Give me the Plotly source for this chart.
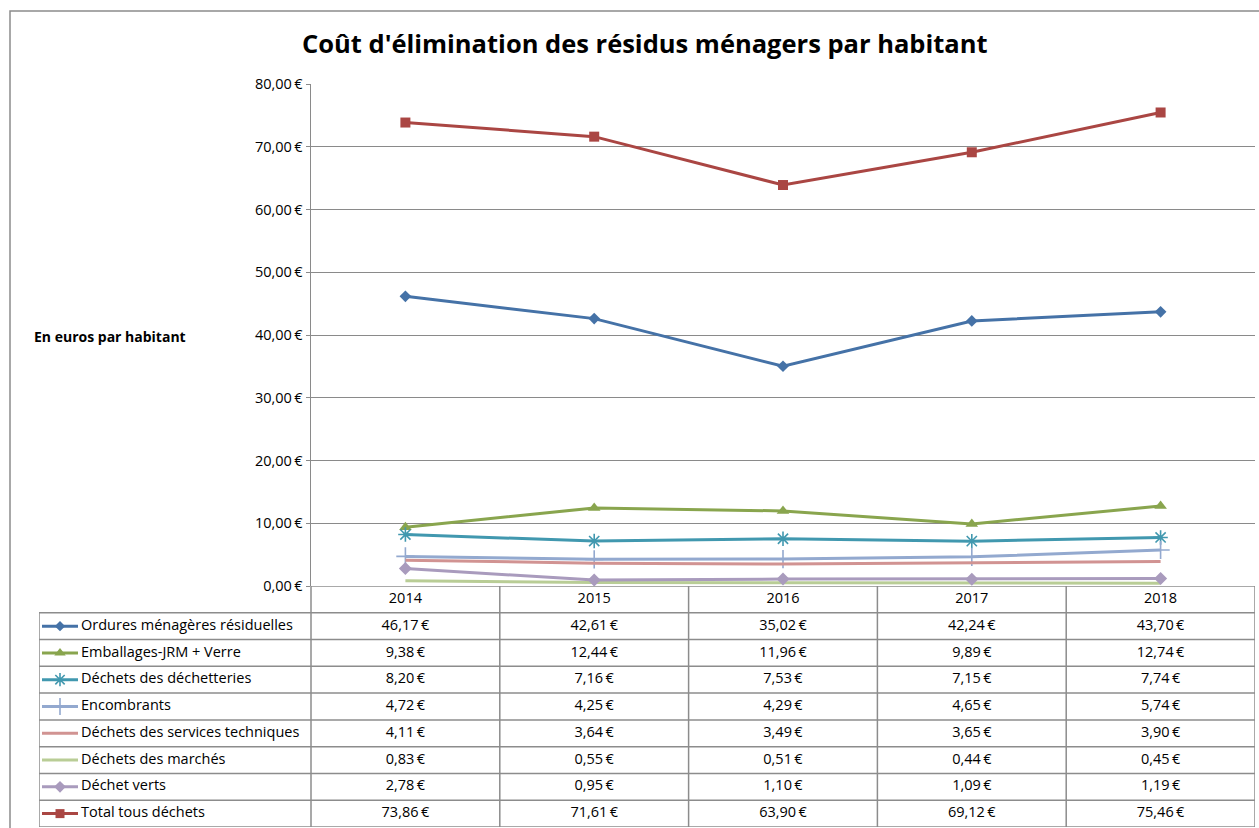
import plotly.graph_objects as go

# ---------------- data ----------------
years = ["2014", "2015", "2016", "2017", "2018"]
series_names = [
    "Ordures ménagères résiduelles",
    "Emballages-JRM + Verre",
    "Déchets des déchetteries",
    "Encombrants",
    "Déchets des services techniques",
    "Déchets des marchés",
    "Déchet verts",
    "Total tous déchets",
]
ordures = [46.17, 42.61, 35.02, 42.24, 43.70]
emballages = [9.38, 12.44, 11.96, 9.89, 12.74]
decheteries = [8.20, 7.16, 7.53, 7.15, 7.74]
encombrants = [4.72, 4.25, 4.29, 4.65, 5.74]
services_tech = [4.11, 3.64, 3.49, 3.65, 3.90]
marches = [0.83, 0.55, 0.51, 0.44, 0.45]
verts = [2.78, 0.95, 1.10, 1.09, 1.19]
total = [73.86, 71.61, 63.90, 69.12, 75.46]
y_ticks = [0, 10, 20, 30, 40, 50, 60, 70, 80]

values = [ordures, emballages, decheteries, encombrants, services_tech, marches, verts, total]

# ---------------- styles ----------------
colors = ["#4572A7", "#89A54E", "#4198AF", "#93A9CF", "#D19392", "#B9CD96", "#A99BBD", "#AA4643"]
symbols = ["diamond", "triangle-up", "asterisk-open", "cross-thin-open", None, None, "diamond", "square"]
msizes = [9, 11, 12, 13, 0, 0, 10, 10]

OFF = 0                      # page body margin removed by post_script
W, H = 1259, 828
FONT = "Open Sans"
TS = 14.5


def eur(v):
    return f"{v:,.2f}".replace(",", " ").replace(".", ",") + "\u2009€"


def px_x(p):
    return min(1.0, max(0.0, (p - OFF) / W))


def px_y(p):
    return min(1.0, max(0.0, 1 - (p - OFF) / H))


# geometry (reference pixels)
PL, PR, PT, PB = 311, 1255, 84, 586
TL, TB = 39, 827
col_w = (PR - PL) / len(years)
leg_w = (PL - TL) / col_w  # legend column width in category units

fig = go.Figure()

xs = [i + 0.5 for i in range(len(years))]

# ---------------- chart lines ----------------
for name, vals, c, s, ms in zip(series_names, values, colors, symbols, msizes):
    mode = "lines+markers" if s else "lines"
    marker = dict(color=c, size=ms, symbol=s if s else "circle",
                  line=dict(color=c, width=1.6 if s in ("asterisk-open", "cross-thin-open") else 0))
    fig.add_trace(go.Scatter(x=xs, y=vals, mode=mode, name=name,
                             line=dict(color=c, width=3), marker=marker,
                             showlegend=False, hoverinfo="skip", xaxis="x", yaxis="y"))

# ---------------- data table ----------------
n_rows = len(series_names) + 1
fig.add_trace(go.Scatter(x=xs, y=[0.5] * len(years), text=years, mode="text",
                         textfont=dict(family=FONT, size=TS, color="#000"),
                         showlegend=False, hoverinfo="skip", xaxis="x2", yaxis="y2"))
key_x0 = -leg_w + 3 / col_w
key_x1 = -leg_w + 39 / col_w
key_xm = (key_x0 + key_x1) / 2
lab_x = -leg_w + 42 / col_w
for r, (name, vals, c, s, ms) in enumerate(zip(series_names, values, colors, symbols, msizes), start=1):
    yc = r + 0.5
    fig.add_trace(go.Scatter(x=xs, y=[yc] * len(vals), text=[eur(v) for v in vals], mode="text",
                             textfont=dict(family=FONT, size=TS, color="#000"),
                             showlegend=False, hoverinfo="skip", xaxis="x2", yaxis="y2"))
    fig.add_trace(go.Scatter(x=[lab_x], y=[yc], text=[name], mode="text", textposition="middle right",
                             textfont=dict(family=FONT, size=TS, color="#000"),
                             showlegend=False, hoverinfo="skip", xaxis="x2", yaxis="y2"))
    fig.add_trace(go.Scatter(x=[key_x0, key_x1], y=[yc, yc], mode="lines",
                             line=dict(color=c, width=3),
                             showlegend=False, hoverinfo="skip", xaxis="x2", yaxis="y2"))
    if s:
        fig.add_trace(go.Scatter(x=[key_xm], y=[yc], mode="markers",
                                 marker=dict(color=c, size=ms - 1, symbol=s,
                                             line=dict(color=c, width=1.6 if s in ("asterisk-open", "cross-thin-open") else 0)),
                                 showlegend=False, hoverinfo="skip", xaxis="x2", yaxis="y2"))

grid_c = "#8c8c8c"
shapes = []
shapes.append(dict(type="line", xref="x2", yref="y2", x0=0, x1=len(years), y0=0, y1=0,
                   line=dict(color=grid_c, width=1.5)))
for r in range(1, n_rows + 1):
    shapes.append(dict(type="line", xref="x2", yref="y2", x0=-leg_w, x1=len(years), y0=r, y1=r,
                       line=dict(color=grid_c, width=1.5)))
for i in range(len(years) + 1):
    shapes.append(dict(type="line", xref="x2", yref="y2", x0=i, x1=i, y0=0, y1=n_rows,
                       line=dict(color=grid_c, width=1.5)))
shapes.append(dict(type="line", xref="x2", yref="y2", x0=-leg_w, x1=-leg_w, y0=1, y1=n_rows,
                   line=dict(color=grid_c, width=1.5)))
# outer chart border
shapes.append(dict(type="rect", xref="paper", yref="paper", x0=px_x(10), x1=1.05, y0=-0.05, y1=px_y(11),
                   line=dict(color="#8c8c8c", width=1.5)))

fig.update_layout(
    width=W, height=H,
    margin=dict(l=0, r=0, t=0, b=0, autoexpand=False),
    paper_bgcolor="white", plot_bgcolor="white",
    showlegend=False,
    font=dict(family=FONT, size=TS, color="#000"),
    xaxis=dict(domain=[px_x(PL), px_x(PR)], range=[0, len(years)], showgrid=False, automargin=False,
               showticklabels=False, zeroline=False, showline=False, fixedrange=True),
    yaxis=dict(domain=[px_y(PB), px_y(PT)], range=[0, 80], tickvals=y_ticks, automargin=False,
               ticktext=[eur(v) for v in y_ticks], showgrid=True, gridcolor="#8a8a8a", gridwidth=1,
               zeroline=False, showline=True, linecolor="#8a8a8a", linewidth=1.5,
               ticks="outside", ticklen=4, tickcolor="#8a8a8a",
               tickfont=dict(family=FONT, size=TS, color="#000"), fixedrange=True),
    xaxis2=dict(domain=[px_x(TL), px_x(PR)], range=[-leg_w, len(years)], visible=False,
                automargin=False, fixedrange=True),
    yaxis2=dict(domain=[px_y(TB), px_y(PB)], range=[n_rows, 0], visible=False,
                automargin=False, fixedrange=True),
    shapes=shapes,
    annotations=[
        dict(text="<b>Coût d'élimination des résidus ménagers par habitant</b>", xref="paper", yref="paper",
             x=px_x(645), y=px_y(43), xanchor="center", yanchor="middle", showarrow=False,
             font=dict(family=FONT, size=25.5, color="#000")),
        dict(text="<b>En euros par habitant</b>", xref="paper", yref="paper",
             x=px_x(32), y=px_y(336), xanchor="left", yanchor="middle", showarrow=False,
             font=dict(family=FONT, size=14, color="#000")),
    ],
)

fig.write_html("out.html", config={"displayModeBar": False, "staticPlot": True},
               post_script="document.body.style.margin='0';document.body.style.overflow='hidden';")
